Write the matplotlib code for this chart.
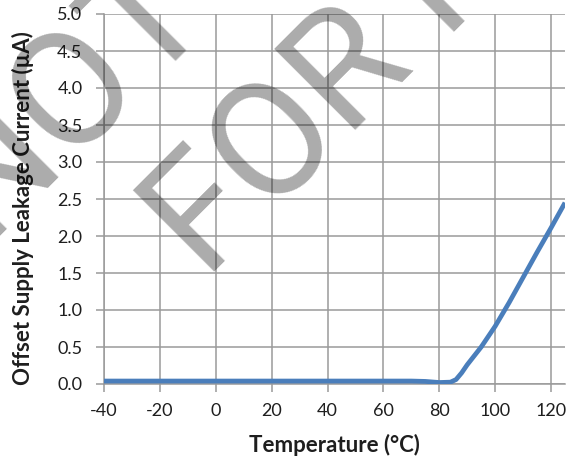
import matplotlib
matplotlib.use('Agg')
import matplotlib.pyplot as plt

# data
temps = [-40, -20, 0, 20, 40, 60, 70, 75, 80, 84, 86, 88, 90, 95, 100, 105, 110, 115, 120, 125]
leakage = [0.04, 0.04, 0.04, 0.04, 0.04, 0.04, 0.04, 0.035, 0.02, 0.025, 0.06, 0.15, 0.26, 0.50, 0.78, 1.10, 1.44, 1.78, 2.11, 2.45]

x_ticks = [-40, -20, 0, 20, 40, 60, 80, 100, 120]
y_ticks = [0.0, 0.5, 1.0, 1.5, 2.0, 2.5, 3.0, 3.5, 4.0, 4.5, 5.0]

watermark_lines = ['NOT RECOMMENDED', 'FOR NEW DESIGNS']

W, H = 569, 462
grid_col = '#9a9a9a'
text_col = '#1e1e1e'

plt.rcParams['font.family'] = ['Lato', 'DejaVu Sans']
plt.rcParams['axes.unicode_minus'] = False

fig = plt.figure(figsize=(W / 100, H / 100), dpi=100)
ax = fig.add_axes([104 / W, 1 - 384 / H, (565 - 104) / W, (384 - 14) / H])

ax.plot(temps, leakage, color='#4a7ebb', linewidth=3.4, solid_capstyle='butt',
        solid_joinstyle='round', zorder=3)

ax.set_xlim(-40, 125)
ax.set_ylim(0, 5.0)
ax.set_xticks(x_ticks)
ax.set_yticks(y_ticks)
ax.set_yticklabels(['%.1f' % v for v in y_ticks])

ax.grid(True, color=grid_col, linewidth=1.1)
ax.set_axisbelow(True)
for side in ['top', 'right']:
    ax.spines[side].set_visible(False)
for side in ['left', 'bottom']:
    ax.spines[side].set_color(grid_col)
    ax.spines[side].set_linewidth(1.1)
ax.tick_params(direction='out', length=5.5, width=1.1, color=grid_col,
               labelsize=13, labelcolor=text_col)
ax.tick_params(axis='y', pad=10)
ax.tick_params(axis='x', pad=8)

# axis titles placed in figure pixels
fig.text(334 / W, 1 - 445 / H, 'Temperature (°C)', fontsize=16, fontweight='bold',
         color=text_col, ha='center', va='center')
fig.text(23 / W, 1 - 208 / H, 'Offset Supply Leakage Current (µA)', fontsize=16,
         fontweight='bold', color=text_col, ha='center', va='center', rotation=90)

# watermark, rotated 45 degrees, partially off the page
starts = [(-12, 249), (206, 281)]
for line, (px, py) in zip(watermark_lines, starts):
    fig.text(px / W, 1 - py / H, line, fontsize=116, family='Roboto',
             color='black', alpha=0.33, rotation=45, rotation_mode='anchor',
             ha='left', va='baseline', zorder=10)

fig.savefig('out.png', dpi=100)
